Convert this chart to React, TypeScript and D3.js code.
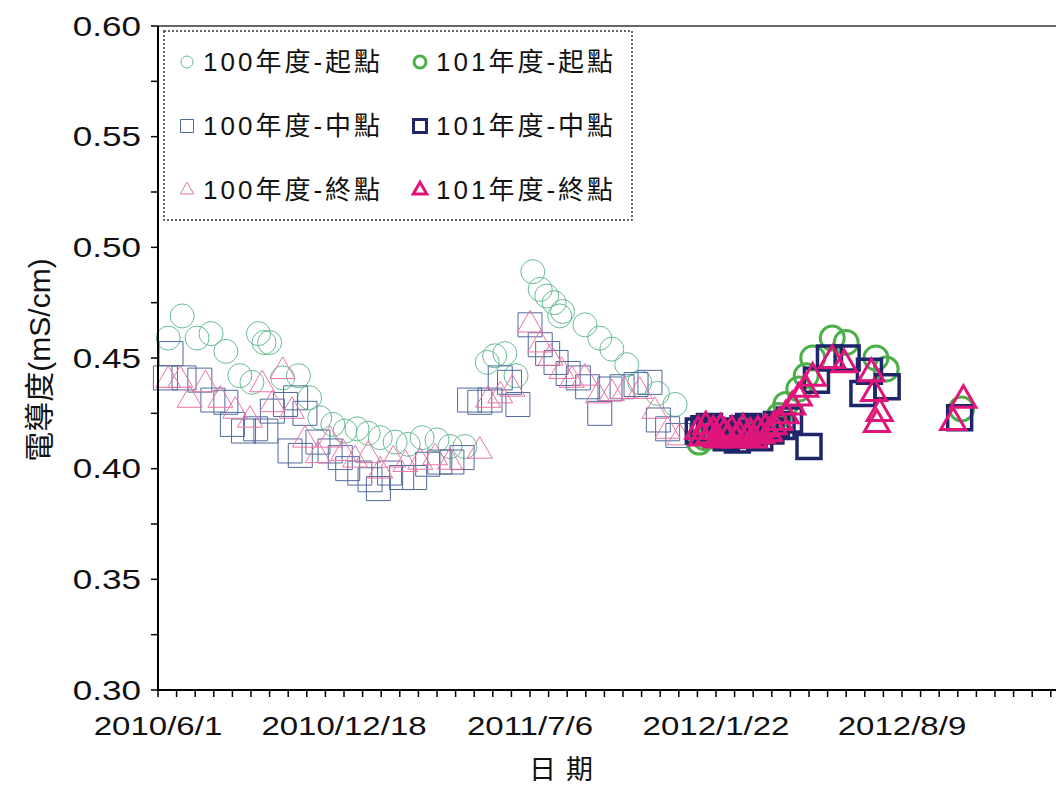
import React from 'react';
import * as d3 from 'd3';

// 100年度 series
const start100: [string, number][] = [
  ['2010-06-12', 0.459], ['2010-06-27', 0.469], ['2010-07-13', 0.459], ['2010-07-28', 0.461],
  ['2010-08-13', 0.453], ['2010-08-28', 0.442], ['2010-09-10', 0.439], ['2010-09-17', 0.461],
  ['2010-09-23', 0.457], ['2010-09-29', 0.457], ['2010-10-13', 0.441], ['2010-10-30', 0.442],
  ['2010-11-11', 0.432], ['2010-11-22', 0.423], ['2010-12-06', 0.420], ['2010-12-19', 0.417],
  ['2011-01-01', 0.418], ['2011-01-13', 0.416], ['2011-01-26', 0.414], ['2011-02-11', 0.412],
  ['2011-02-25', 0.411], ['2011-03-12', 0.414], ['2011-03-28', 0.413], ['2011-04-11', 0.410],
  ['2011-04-27', 0.410], ['2011-05-21', 0.448], ['2011-05-29', 0.451], ['2011-06-09', 0.452],
  ['2011-06-21', 0.442], ['2011-07-09', 0.489], ['2011-07-17', 0.481], ['2011-07-24', 0.478],
  ['2011-08-01', 0.475], ['2011-08-07', 0.469], ['2011-08-10', 0.471], ['2011-09-03', 0.465],
  ['2011-09-19', 0.459], ['2011-10-02', 0.454], ['2011-10-18', 0.447], ['2011-11-01', 0.439],
  ['2011-11-20', 0.434], ['2011-12-09', 0.429],
];

const mid100: [string, number][] = [
  ['2010-06-09', 0.441], ['2010-06-15', 0.452], ['2010-06-29', 0.441], ['2010-07-16', 0.440],
  ['2010-07-30', 0.431], ['2010-08-13', 0.430], ['2010-08-20', 0.420], ['2010-09-01', 0.417],
  ['2010-09-14', 0.418], ['2010-09-25', 0.417], ['2010-10-02', 0.426], ['2010-10-16', 0.429],
  ['2010-10-21', 0.408], ['2010-10-27', 0.432], ['2010-11-01', 0.406], ['2010-11-06', 0.425],
  ['2010-11-20', 0.412], ['2010-12-03', 0.408], ['2010-12-14', 0.405], ['2010-12-22', 0.400],
  ['2011-01-04', 0.398], ['2011-01-15', 0.395], ['2011-01-24', 0.391], ['2011-02-05', 0.398],
  ['2011-02-18', 0.396], ['2011-03-04', 0.396], ['2011-03-18', 0.402], ['2011-03-31', 0.403],
  ['2011-04-13', 0.403], ['2011-04-24', 0.405], ['2011-05-02', 0.431], ['2011-05-13', 0.430],
  ['2011-05-24', 0.431], ['2011-06-04', 0.441], ['2011-06-14', 0.439], ['2011-06-23', 0.429],
  ['2011-07-06', 0.465], ['2011-07-17', 0.456], ['2011-07-25', 0.452], ['2011-08-03', 0.448],
  ['2011-08-16', 0.443], ['2011-08-27', 0.441], ['2011-09-06', 0.437], ['2011-09-19', 0.425],
  ['2011-09-30', 0.436], ['2011-10-13', 0.437], ['2011-10-28', 0.438], ['2011-11-12', 0.439],
  ['2011-11-21', 0.422], ['2011-12-01', 0.418], ['2011-12-12', 0.415],
];

const end100: [string, number][] = [
  ['2010-06-12', 0.440], ['2010-06-25', 0.440], ['2010-07-05', 0.431], ['2010-07-22', 0.438],
  ['2010-08-07', 0.431], ['2010-08-23', 0.426], ['2010-09-08', 0.422], ['2010-09-21', 0.438],
  ['2010-10-02', 0.429], ['2010-10-13', 0.444], ['2010-10-23', 0.426], ['2010-11-06', 0.413],
  ['2010-11-20', 0.406], ['2010-12-03', 0.413], ['2010-12-17', 0.407], ['2010-12-30', 0.404],
  ['2011-01-13', 0.406], ['2011-01-26', 0.399], ['2011-02-09', 0.404], ['2011-02-22', 0.402],
  ['2011-03-10', 0.403], ['2011-03-26', 0.405], ['2011-04-11', 0.403], ['2011-05-13', 0.408],
  ['2011-05-22', 0.431], ['2011-06-04', 0.433], ['2011-06-17', 0.436], ['2011-07-06', 0.465],
  ['2011-07-17', 0.456], ['2011-07-28', 0.450], ['2011-08-09', 0.444], ['2011-08-20', 0.440],
  ['2011-09-03', 0.441], ['2011-09-17', 0.433], ['2011-10-02', 0.434], ['2011-10-16', 0.435],
  ['2011-11-01', 0.435], ['2011-11-17', 0.426], ['2011-12-01', 0.417], ['2011-12-14', 0.414],
];

// 101年度 series
const start101: [string, number][] = [
  ['2012-01-04', 0.412], ['2012-01-10', 0.414], ['2012-01-16', 0.416], ['2012-01-22', 0.417],
  ['2012-01-28', 0.415], ['2012-02-03', 0.416], ['2012-02-09', 0.414], ['2012-02-15', 0.415],
  ['2012-02-21', 0.416], ['2012-02-27', 0.417], ['2012-03-04', 0.415], ['2012-03-10', 0.418],
  ['2012-03-16', 0.417], ['2012-03-22', 0.419], ['2012-03-30', 0.424], ['2012-04-06', 0.429],
  ['2012-04-20', 0.436], ['2012-04-28', 0.442], ['2012-05-05', 0.450], ['2012-05-26', 0.459],
  ['2012-06-10', 0.457], ['2012-07-12', 0.450], ['2012-07-23', 0.445], ['2012-10-12', 0.427],
];

const mid101: [string, number][] = [
  ['2012-01-03', 0.417], ['2012-01-09', 0.418], ['2012-01-15', 0.419], ['2012-01-21', 0.416],
  ['2012-01-27', 0.417], ['2012-02-02', 0.414], ['2012-02-08', 0.415], ['2012-02-14', 0.413],
  ['2012-02-20', 0.418], ['2012-02-26', 0.419], ['2012-03-03', 0.416], ['2012-03-09', 0.414],
  ['2012-03-15', 0.418], ['2012-03-21', 0.417], ['2012-03-27', 0.420], ['2012-04-02', 0.419],
  ['2012-04-10', 0.422], ['2012-05-01', 0.410], ['2012-05-09', 0.440], ['2012-05-23', 0.450],
  ['2012-06-11', 0.450], ['2012-06-28', 0.434], ['2012-07-05', 0.444], ['2012-07-24', 0.437],
  ['2012-10-10', 0.423],
];

const end101: [string, number][] = [
  ['2012-01-03', 0.417], ['2012-01-07', 0.414], ['2012-01-11', 0.419], ['2012-01-15', 0.415],
  ['2012-01-19', 0.417], ['2012-01-23', 0.413], ['2012-01-27', 0.418], ['2012-01-31', 0.416],
  ['2012-02-04', 0.414], ['2012-02-08', 0.417], ['2012-02-12', 0.413], ['2012-02-16', 0.415],
  ['2012-02-20', 0.418], ['2012-02-24', 0.414], ['2012-02-28', 0.416], ['2012-03-03', 0.413],
  ['2012-03-07', 0.417], ['2012-03-11', 0.415], ['2012-03-15', 0.418], ['2012-03-19', 0.416],
  ['2012-03-24', 0.419], ['2012-03-30', 0.421], ['2012-04-06', 0.424], ['2012-04-13', 0.428],
  ['2012-04-20', 0.432], ['2012-04-27', 0.436], ['2012-05-05', 0.441], ['2012-05-26', 0.449],
  ['2012-06-08', 0.447], ['2012-07-07', 0.443], ['2012-07-10', 0.434], ['2012-07-13', 0.420],
  ['2012-07-16', 0.425], ['2012-10-03', 0.421], ['2012-10-14', 0.431],
];

const yTicks = [0.30, 0.35, 0.40, 0.45, 0.50, 0.55, 0.60];

type Series = {
  name: string;
  data: [string, number][];
  shape: d3.SymbolType;
  color: string;
  width: number;
};

const series: Series[] = [
  { name: '100年度-起點', data: start100, shape: d3.symbolCircle, color: '#66bd90', width: 1 },
  { name: '100年度-中點', data: mid100, shape: d3.symbolSquare, color: '#4f6a9c', width: 1 },
  { name: '100年度-終點', data: end100, shape: d3.symbolTriangle, color: '#e872a6', width: 1 },
  { name: '101年度-起點', data: start101, shape: d3.symbolCircle, color: '#4bb04a', width: 3 },
  { name: '101年度-中點', data: mid101, shape: d3.symbolSquare, color: '#1c2668', width: 3.5 },
  { name: '101年度-終點', data: end101, shape: d3.symbolTriangle, color: '#e0157a', width: 3 },
];

// marker areas for d3.symbol
const bigSize = (shape: d3.SymbolType) =>
  shape === d3.symbolCircle ? Math.PI * 12 * 12 : shape === d3.symbolSquare ? 24 * 24 : 270;
const smallSize = (shape: d3.SymbolType) =>
  shape === d3.symbolCircle ? Math.PI * 6 * 6 : shape === d3.symbolSquare ? 13 * 13 : 80;

const W = 1056;
const H = 785;
const left = 158;
const top = 26;
const bottom = 690;

const parse = d3.utcParse('%Y-%m-%d');
const fmt = d3.utcFormat('%Y/%-m/%-d');
const x0 = parse('2010-06-01') as Date;
const x1 = d3.utcDay.offset(x0, 1000);

export default function App() {
  const x = d3.scaleUtc().domain([x0, x1]).range([left, left + 930]);
  const y = d3.scaleLinear().domain([0.3, 0.6]).range([bottom, top]);

  const minorX = d3.range(0, 1001, 20).map((n) => d3.utcDay.offset(x0, n));
  const majorX = d3.range(0, 1001, 200)
    .map((n) => d3.utcDay.offset(x0, n))
    .filter((d) => x(d) < W - 60);
  const minorY = d3.range(0, 13).map((i) => 0.3 + i * 0.025);

  const font = '"Liberation Sans", Arial, sans-serif';
  const cjk = '"Liberation Sans", "Noto Sans CJK TC", sans-serif';

  return (
    <svg width={W} height={H} style={{ position: 'absolute', left: 0, top: 0, background: '#fff' }}>
      {/* top border of plot area */}
      <line x1={left} x2={W} y1={top} y2={top} stroke="#666" strokeWidth={2} />

      {/* markers */}
      {series.map((s) => {
        const sym = d3.symbol().type(s.shape).size(bigSize(s.shape))();
        return (
          <g key={s.name}>
            {s.data.map(([d, v], i) => (
              <path
                key={i}
                d={sym as string}
                transform={`translate(${x(parse(d) as Date)},${y(v)})`}
                fill="none"
                stroke={s.color}
                strokeWidth={s.width}
              />
            ))}
          </g>
        );
      })}

      {/* y axis */}
      <line x1={left} x2={left} y1={top} y2={bottom} stroke="#000" strokeWidth={2} />
      {minorY.map((v, i) => (
        <line key={i} x1={left - 7} x2={left} y1={y(v)} y2={y(v)} stroke="#000" strokeWidth={1.5} />
      ))}
      {yTicks.map((v) => (
        <text
          key={v}
          transform={`translate(141,${y(v)}) scale(1.3,1)`}
          dy="0.36em"
          textAnchor="end"
          fontFamily={font}
          fontSize={27}
          fill="#111"
        >
          {v.toFixed(2)}
        </text>
      ))}

      {/* x axis */}
      <line x1={left} x2={W} y1={bottom} y2={bottom} stroke="#000" strokeWidth={2} />
      {minorX.map((d, i) => (
        <line key={i} x1={x(d)} x2={x(d)} y1={bottom} y2={bottom + 7} stroke="#000" strokeWidth={1.5} />
      ))}
      {majorX.map((d, i) => (
        <text
          key={i}
          transform={`translate(${x(d)},735) scale(1.27,1)`}
          textAnchor="middle"
          fontFamily={font}
          fontSize={26}
          fill="#111"
        >
          {fmt(d)}
        </text>
      ))}

      {/* axis titles */}
      <text
        transform="translate(50,360) rotate(-90)"
        textAnchor="middle"
        fontFamily={cjk}
        fontSize={30}
        fill="#111"
      >
        電導度(mS/cm)
      </text>
      <text x={566} y={779} textAnchor="middle" fontFamily={cjk} fontSize={27} letterSpacing={10} fill="#111">
        日期
      </text>

      {/* legend */}
      <rect x={164} y={31} width={468} height={189} fill="#fff" stroke="#333" strokeWidth={1.5} strokeDasharray="2,2" />
      {series.map((s, i) => {
        const col = Math.floor(i / 3);
        const row = i % 3;
        const mx = col === 0 ? 187 : 420;
        const my = 62 + row * 64;
        const sym = d3.symbol().type(s.shape).size(smallSize(s.shape))();
        return (
          <g key={s.name}>
            <path
              d={sym as string}
              transform={`translate(${mx},${my})`}
              fill="none"
              stroke={s.color}
              strokeWidth={s.width === 1 ? 1 : 3}
            />
            <text x={mx + 16} y={my} dy="0.36em" fontFamily={cjk} fontSize={26} letterSpacing={3} fill="#111">
              {s.name}
            </text>
          </g>
        );
      })}
    </svg>
  );
}
